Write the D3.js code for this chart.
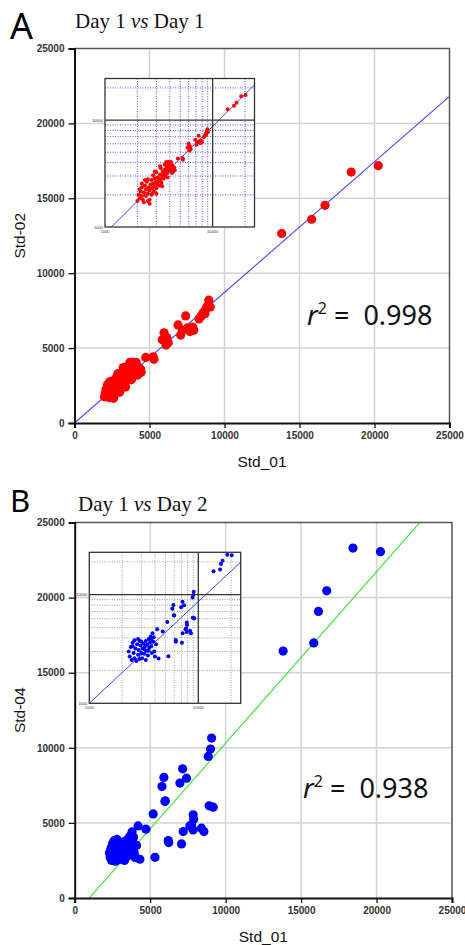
<!DOCTYPE html>
<html><head><meta charset="utf-8">
<script src="https://cdn.jsdelivr.net/npm/d3@7"></script>
<style>body{margin:0;background:#fff}svg{display:block}</style>
</head><body>
<svg id="c" width="465" height="945"></svg>
<script>
// ---------------- data ----------------
const axisTicks = [0, 5000, 10000, 15000, 20000, 25000];
const insetTicksMajor = [1000, 10000];
const insetTicksMinor = [2000, 3000, 4000, 5000, 6000, 7000, 8000, 9000, 20000];

// Panel A: Std_01 (x) vs Std-02 (y)
const xA = [2000,2050,2100,2150,2200,2200,2250,2300,2350,2400,2400,2450,2500,2550,2600,2600,2650,2700,2700,2750,
  2800,2850,2900,2900,2950,3000,3050,3100,3150,3200,3250,3300,3350,3400,3450,3500,3550,3600,3650,3700,
  3750,3800,3850,3900,3950,4000,4050,4100,4200,4300,4300,4400,2300,2500,2750,3100,3500,
  2200,2500,2800,3000,3300,3600,3900,2600,3000,3400,3800,4200,4450,4100,2100,2350,2900,3250,3700,
  4750,5250,5300,5850,5970,6100,6250,6150,6900,7080,7200,7410,7550,7700,7880,7950,8300,8450,8600,8700,8750,8850,8950,9050,
  13810,15810,16700,18450,20250];
const yA = [1750,2000,1850,2150,1950,2350,1800,2100,2450,1950,2250,2650,2050,2350,1800,2200,2500,2000,2750,2300,
  2550,2150,2400,2850,2650,2300,2550,2900,2700,2450,3100,2800,2600,3000,3300,2850,3150,3450,3000,3300,
  3650,3200,3500,3850,3350,3650,4000,3450,3800,3550,3300,3600,1700,1750,2050,2450,3100,
  2550,2800,3050,3250,3550,3850,4050,1650,2050,2400,2900,3200,3400,4050,2250,2750,3300,3700,4050,
  4380,4420,4250,5550,6020,5200,5350,5700,6550,5870,6200,7150,6350,6100,6400,6200,6950,7150,7400,7300,7600,7800,8200,7750,
  12650,13600,14530,16750,17180];

// Panel B: Std_01 (x) vs Std-04 (y)
const xB = [2300,2350,2400,2450,2500,2550,2600,2600,2650,2700,2750,2800,2800,2850,2900,2950,3000,3000,3050,3100,
  3150,3200,3250,3300,3300,3350,3400,3450,3500,3550,3600,3650,3700,3750,3800,3850,3900,3950,4000,4100,4200,4320,
  2500,2900,3200,3500,3700,
  4720,5200,5320,5980,6200,6230,7080,7190,7850,7880,7740,7630,7850,8400,8560,8910,9180,
  9070,9000,8850,7150,5910,7410,5780,6970,6000,
  13810,15840,16150,16700,18440,20260];
const yB = [3000,2700,3300,2500,3600,2900,2600,3800,3200,2450,3500,2800,3900,3100,2550,3400,3700,2900,2600,3200,
  3550,2850,3350,2500,3750,3050,3450,2750,3900,3250,3600,4100,3350,2900,4400,3700,4050,3000,2700,3500,4800,2580,
  3350,3750,3150,3050,3850,
  4580,5600,2710,6420,3820,3690,3600,4420,5540,5250,4870,4800,4530,4650,4420,6140,6050,
  10650,9920,9425,8600,8025,7980,7425,7650,6470,
  16440,16980,19080,20450,23300,23060];

// fits
const fitA = {slope: 0.872, intercept: 0};          // linear, main & inset
const fitB = {slope: 1.1414, intercept: -1104};     // linear, main
const fitBlog = {slope: 0.935, intercept: 0.195};   // log-log, inset
const r2A = "0.998", r2B = "0.938";

// ---------------- drawing ----------------
const svg = d3.select("#c");
const panels = [
  {id:"A", letter:"A", letterSize:36, title:"Day 1 ", title2:"vs", title3:" Day 1", titleY:28, titleX:75,
   ylab:"Std-02", xs:xA, ys:yA, color:"#ff0000", fit:fitA, lineColor:"#4444ff", r2:r2A,
   px:[74.5,449.5], py:[423,48.5], inset:{x:[105,254.5], y:[227,78.5]}, gridColor:"#5555ff",
   insetFit:"lin", r2x:307, r2y:325, letterY:39},
  {id:"B", letter:"B", letterSize:31, title:"Day 1 ", title2:"vs", title3:" Day 2", titleY:511, titleX:78,
   ylab:"Std-04", xs:xB, ys:yB, color:"#0000ff", fit:fitB, lineColor:"#33e633", r2:r2B,
   px:[74.7,452], py:[898,522.5], inset:{x:[89.3,240.7], y:[703.3,552.3]}, gridColor:"#999999",
   insetFit:"log", r2x:303, r2y:798, letterY:512}
];

panels.forEach(p => {
  const g = svg.append("g");
  const x = d3.scaleLinear().domain([0,25000]).range(p.px);
  const y = d3.scaleLinear().domain([0,25000]).range(p.py);

  g.append("clipPath").attr("id","clip"+p.id).append("rect")
    .attr("x",p.px[0]).attr("y",p.py[1]).attr("width",p.px[1]-p.px[0]).attr("height",p.py[0]-p.py[1]);

  // grid
  g.append("g").selectAll("line.v").data(axisTicks.slice(1,-1)).join("line")
    .attr("x1",d=>x(d)).attr("x2",d=>x(d)).attr("y1",p.py[0]).attr("y2",p.py[1])
    .attr("stroke","#d2d2d2").attr("stroke-width",1.5);
  g.append("g").selectAll("line.h").data(axisTicks.slice(1,-1)).join("line")
    .attr("y1",d=>y(d)).attr("y2",d=>y(d)).attr("x1",p.px[0]).attr("x2",p.px[1])
    .attr("stroke","#d2d2d2").attr("stroke-width",1.5);

  // regression line
  const lineG = g.append("g").attr("clip-path","url(#clip"+p.id+")");
  const fx = [0, 25000];
  lineG.append("line")
    .attr("x1",x(fx[0])).attr("y1",y(p.fit.slope*fx[0]+p.fit.intercept))
    .attr("x2",x(fx[1])).attr("y2",y(p.fit.slope*fx[1]+p.fit.intercept))
    .attr("stroke",p.lineColor).attr("stroke-width",1.1);

  // points
  g.append("g").selectAll("circle").data(p.xs.map((v,i)=>[v,p.ys[i]])).join("circle")
    .attr("cx",d=>x(d[0])).attr("cy",d=>y(d[1])).attr("r",4.6).attr("fill",p.color);

  // frame top/right
  g.append("path").attr("d",`M${p.px[0]},${p.py[1]}H${p.px[1]}V${p.py[0]}`)
    .attr("fill","none").attr("stroke","#555").attr("stroke-width",1.5);

  // axes
  const ax = g.append("g").attr("transform",`translate(0,${p.py[0]})`)
    .call(d3.axisBottom(x).tickValues(axisTicks).tickFormat(d3.format("d")).tickSize(5).tickPadding(4));
  const ay = g.append("g").attr("transform",`translate(${p.px[0]},0)`)
    .call(d3.axisLeft(y).tickValues(axisTicks).tickFormat(d3.format("d")).tickSize(6).tickPadding(4));
  [ax,ay].forEach(a=>{
    a.select(".domain").attr("stroke","#111").attr("stroke-width",2);
    a.selectAll(".tick line").attr("stroke","#111").attr("stroke-width",1.3);
    a.selectAll(".tick text").attr("font-family","Liberation Sans, Arial, sans-serif")
      .attr("font-size",10).attr("font-weight","bold").attr("fill","#333");
  });

  // axis titles
  g.append("text").attr("x",(p.px[0]+p.px[1])/2).attr("y",p.py[0]+44)
    .attr("text-anchor","middle").attr("font-family","Liberation Sans, Arial, sans-serif")
    .attr("font-size",15.5).attr("fill","#111").text("Std_01");
  g.append("text").attr("transform",`translate(25,${(p.py[0]+p.py[1])/2}) rotate(-90)`)
    .attr("text-anchor","middle").attr("font-family","Liberation Sans, Arial, sans-serif")
    .attr("font-size",15.5).attr("fill","#111").text(p.ylab);

  // panel letter & title
  g.append("text").attr("x",10).attr("y",p.letterY).attr("font-family","Noto Sans, sans-serif")
    .attr("font-size",p.letterSize).attr("fill","#000").text(p.letter);
  const t = g.append("text").attr("x",p.titleX).attr("y",p.titleY)
    .attr("font-family","Liberation Serif, Times New Roman, serif").attr("font-size",21).attr("fill","#111");
  t.append("tspan").text(p.title);
  t.append("tspan").attr("font-style","italic").text(p.title2);
  t.append("tspan").text(p.title3);

  // r^2
  const rt = g.append("text").attr("x",p.r2x).attr("y",p.r2y)
    .attr("font-family","Noto Sans, sans-serif").attr("font-size",27).attr("fill","#111");
  rt.append("tspan").attr("font-style","italic").text("r");
  rt.append("tspan").attr("font-size",16).attr("dy",-11).text("2");
  rt.append("tspan").attr("dy",11).text(" = \u00a0" + p.r2);

  // ---------- inset (log-log) ----------
  const ix = d3.scaleLog().domain([1000,24500]).range(p.inset.x);
  const iy = d3.scaleLog().domain([1000,24500]).range(p.inset.y);
  const ig = g.append("g");
  ig.append("clipPath").attr("id","iclip"+p.id).append("rect")
    .attr("x",p.inset.x[0]).attr("y",p.inset.y[1])
    .attr("width",p.inset.x[1]-p.inset.x[0]).attr("height",p.inset.y[0]-p.inset.y[1]);
  ig.append("rect").attr("x",p.inset.x[0]).attr("y",p.inset.y[1])
    .attr("width",p.inset.x[1]-p.inset.x[0]).attr("height",p.inset.y[0]-p.inset.y[1]).attr("fill","#fff");
  ig.append("g").selectAll("line").data(insetTicksMinor).join("line")
    .attr("x1",d=>ix(d)).attr("x2",d=>ix(d)).attr("y1",p.inset.y[0]).attr("y2",p.inset.y[1])
    .attr("stroke",p.gridColor).attr("stroke-width",1).attr("stroke-dasharray","1,1.5");
  ig.append("g").selectAll("line").data(insetTicksMinor).join("line")
    .attr("y1",d=>iy(d)).attr("y2",d=>iy(d)).attr("x1",p.inset.x[0]).attr("x2",p.inset.x[1])
    .attr("stroke",p.gridColor).attr("stroke-width",1).attr("stroke-dasharray","1,1.5");
  const ic = ig.append("g").attr("clip-path","url(#iclip"+p.id+")");
  const ex = [1000, 24500];
  const fitLog = v => p.insetFit==="lin" ? p.fit.slope*v + p.fit.intercept
                                          : Math.pow(10, fitBlog.intercept + fitBlog.slope*Math.log10(v));
  ic.append("line").attr("x1",ix(ex[0])).attr("y1",iy(fitLog(ex[0])))
    .attr("x2",ix(ex[1])).attr("y2",iy(fitLog(ex[1])))
    .attr("stroke","#4444ff").attr("stroke-width",1);
  ic.append("g").selectAll("circle").data(p.xs.map((v,i)=>[v,p.ys[i]])).join("circle")
    .attr("cx",d=>ix(d[0])).attr("cy",d=>iy(d[1])).attr("r",2).attr("fill",p.color);
  ig.append("g").selectAll("line").data(insetTicksMajor.slice(1)).join("line")
    .attr("x1",d=>ix(d)).attr("x2",d=>ix(d)).attr("y1",p.inset.y[0]).attr("y2",p.inset.y[1])
    .attr("stroke","#333").attr("stroke-width",1.3);
  ig.append("g").selectAll("line").data(insetTicksMajor.slice(1)).join("line")
    .attr("y1",d=>iy(d)).attr("y2",d=>iy(d)).attr("x1",p.inset.x[0]).attr("x2",p.inset.x[1])
    .attr("stroke","#333").attr("stroke-width",1.3);
  ig.append("rect").attr("x",p.inset.x[0]).attr("y",p.inset.y[1])
    .attr("width",p.inset.x[1]-p.inset.x[0]).attr("height",p.inset.y[0]-p.inset.y[1])
    .attr("fill","none").attr("stroke","#333").attr("stroke-width",1.3);
  ig.append("g").selectAll("text").data(insetTicksMajor).join("text")
    .attr("x",d=>ix(d)).attr("y",p.inset.y[0]+6).attr("text-anchor","middle")
    .attr("font-family","Liberation Sans, Arial, sans-serif").attr("font-size",4).attr("fill","#333")
    .text(d=>d);
  ig.append("g").selectAll("text").data(insetTicksMajor).join("text")
    .attr("x",p.inset.x[0]-2).attr("y",d=>iy(d)+1.5).attr("text-anchor","end")
    .attr("font-family","Liberation Sans, Arial, sans-serif").attr("font-size",4).attr("fill","#333")
    .text(d=>d);
});
</script>
</body></html>
